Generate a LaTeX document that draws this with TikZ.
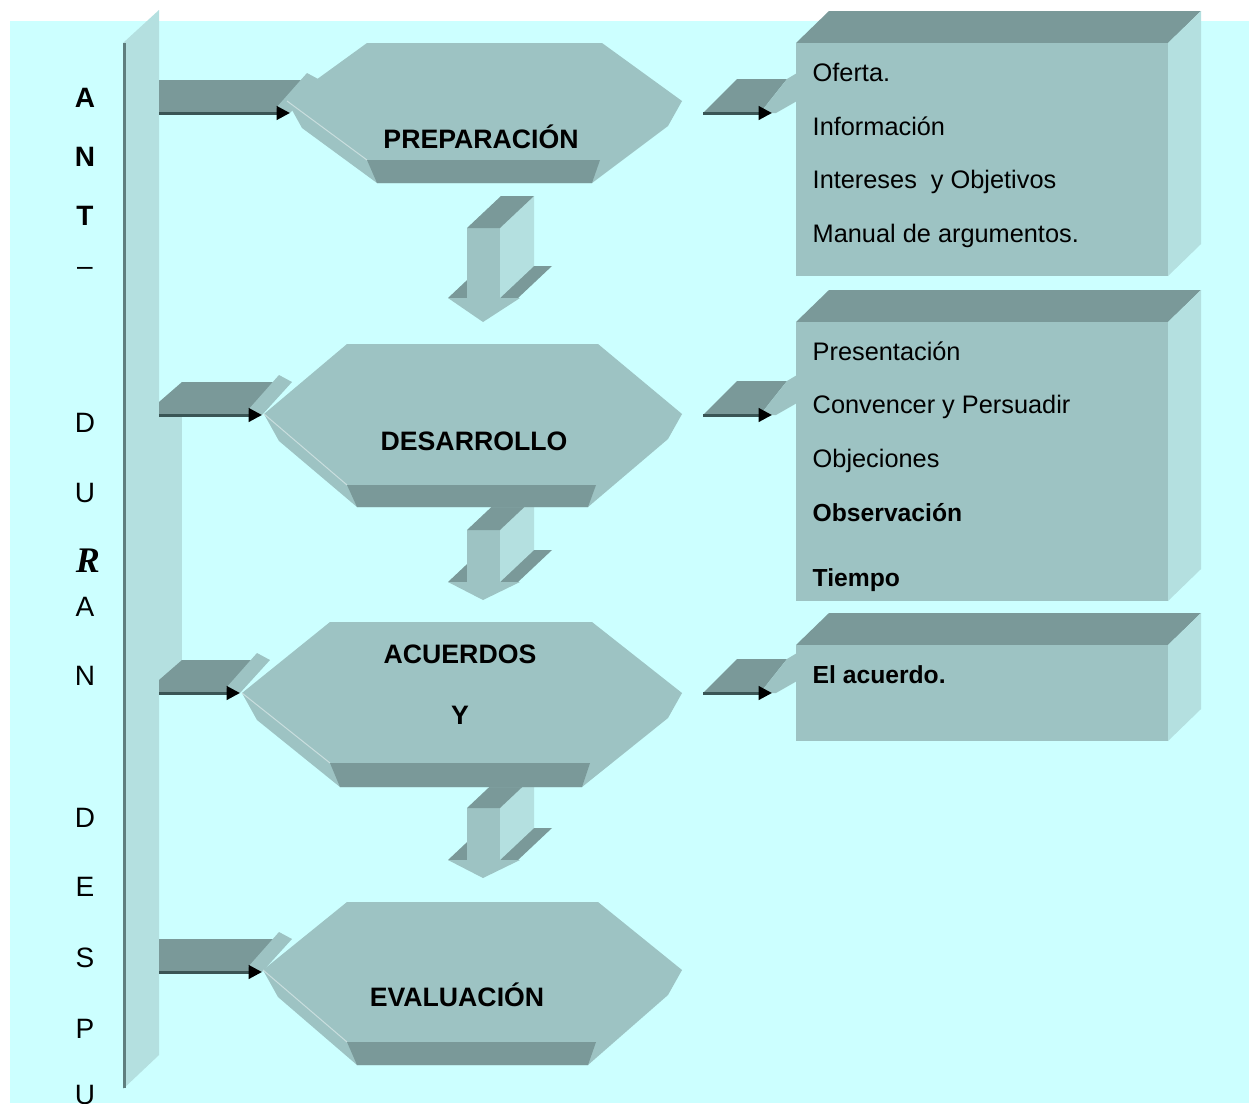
\documentclass[tikz,border=0pt]{standalone}
\usepackage{fontspec}
\setmainfont{Liberation Sans}
\newfontfamily\rserif{Liberation Serif}
\usetikzlibrary{arrows.meta}
\definecolor{bgcyan}{HTML}{CCFFFF}
\definecolor{faceteal}{HTML}{9DC3C3}
\definecolor{darkteal}{HTML}{7A9999}
\definecolor{sideteal}{HTML}{B4E0E0}
\definecolor{edgeteal}{HTML}{5E7E7E}
\definecolor{lineteal}{HTML}{3A5555}

\begin{document}
\begin{tikzpicture}[
  x=0.75pt,y=-0.75pt,
  face/.style={fill=faceteal},
  shade/.style={fill=darkteal},
  side/.style={fill=sideteal},
  link/.style={draw=lineteal,line width=2.25pt,-{Triangle[length=10pt,width=10pt,color=black]}},
  phase/.style={font=\fontsize{20}{24}\selectfont\bfseries,text height=0.72em,text depth=0pt,yshift=-3.75pt},
  item/.style={anchor=west,font=\fontsize{19}{22}\selectfont,text height=0.72em,text depth=0pt,yshift=-3.75pt},
  bolditem/.style={item,font=\fontsize{18.5}{22}\selectfont\bfseries},
  letter/.style={font=\fontsize{21}{24}\selectfont,text height=0.72em,text depth=0pt,yshift=-4.5pt}
]
  \useasboundingbox (0,0) rectangle (1249,1103);
  \fill[white] (0,0) rectangle (1249,1103);
  \fill[bgcyan] (10,21) rectangle (1249,1103);

  % time bar on the left
  \fill[side] (123,43) -- (159,10) -- (159,1055) -- (123,1089) -- cycle;
  \draw[edgeteal,line width=2.25pt] (124.5,43) -- (124.5,1088);
  \fill[side] (159,410) rectangle (182,682);

  % arrows down between the phases
  \foreach \yt/\yb/\tp in {228/298/322, 530/582/600, 808/860/878}{
    \fill[shade] (448,\yb) -- (482,\yb-32) -- (552,\yb-32) -- (518,\yb) -- cycle;
    \fill[face] (448,\yb) -- (483,\tp) -- (520,\yb) -- cycle;
    \fill[side] (500,\yt) -- (534,\yt-32) -- (534,\yb-32) -- (500,\yb) -- cycle;
    \fill[face] (467,\yt) rectangle (500,\yb);
    \fill[shade] (467,\yt) -- (501,\yt-32) -- (534,\yt-32) -- (500,\yt) -- cycle;
  }

  % arrows from the bar
  \foreach \yb/\tx/\sl in {113/290/0, 415/262/1, 693/240/1, 972/262/0}{
    \fill[shade] (159,\yb) -- (159,\yb-33+20*\sl) -- (159+23*\sl,\yb-33)
      -- (\tx+11,\yb-33) -- (\tx-10,\yb) -- cycle;
    \fill[face] (\tx-14,\yb-5) -- (\tx+17,\yb-40) -- (\tx+30,\yb-33) -- (\tx,\yb) -- cycle;
    \draw[link] (159,\yb) -- (\tx,\yb);
  }

  % phases
  \foreach \xl/\xr/\yt/\lx/\rx/\my/\bt/\bb in {367/602/43/287/682/101/160/183,
      347/598/344/264/682/414/485/507, 330/592/622/242/682/693/763/787,
      347/598/902/263/682/970/1042/1065}{
    \fill[face] (\lx,\my) -- (\lx+15,\my+27) -- (\xl+10,\bb) -- (\xr-10,\bb)
      -- (\rx-14,\my+25) -- (\rx,\my) -- cycle;
    \fill[face] (\lx,\my) -- (\xl,\yt) -- (\xr,\yt) -- (\rx,\my) -- (\xr-2,\bt)
      -- (\xl,\bt) -- cycle;
    \draw[white!45!faceteal,line width=0.75pt] (\lx,\my) -- (\xl,\bt);
    \fill[shade] (\xl,\bt) -- (\xr-2,\bt) -- (\xr-10,\bb) -- (\xl+10,\bb) -- cycle;
  }

  % arrows to the boxes
  \foreach \y in {113,415,693}{
    \fill[shade] (703,\y) -- (737,\y-34) -- (787,\y-34) -- (760,\y) -- cycle;
    \fill[face] (760,\y) -- (787,\y-34) -- (797,\y-40) -- (797,\y-12) -- (776,\y) -- cycle;
    \draw[link] (703,\y) -- (772,\y);
  }

  % boxes
  \foreach \t/\b in {43/276, 322/601, 645/741}{
    \fill[shade] (796,\t) -- (829,\t-32) -- (1201,\t-32) -- (1168,\t) -- cycle;
    \fill[side] (1168,\t) -- (1201,\t-32) -- (1201,\b-32) -- (1168,\b) -- cycle;
    \fill[face] (796,\t) rectangle (1168,\b);
  }

  % labels
  \node[phase] (prep) at (481,139) {PREPARACIÓN};
  \node[phase] (desa) at (474,441) {DESARROLLO};
  \node[phase] (acue) at (460,654) {ACUERDOS};
  \node[phase] (acuy) at (460,715) {Y};
  \node[phase] (eval) at (457,997) {EVALUACIÓN};

  \node[item] (ofer) at (808,72) {Oferta.};
  \node[item] (info) at (808,126) {Información};
  \node[item] (inte) at (808,179) {Intereses \ y Objetivos};
  \node[item] (manu) at (808,233) {Manual de argumentos.};
  \node[item] (pres) at (808,351) {Presentación};
  \node[item] (conv) at (808,404) {Convencer y Persuadir};
  \node[item] (obje) at (808,458) {Objeciones};
  \node[bolditem] (obse) at (808,512) {Observación};
  \node[bolditem] (tiem) at (808,577) {Tiempo};
  \node[bolditem] (elac) at (808,674) {El acuerdo.};

  \foreach \ch/\yy in {A/97, N/156, T/215}
    \node[letter,font=\fontsize{21}{24}\selectfont\bfseries] (ltr\yy) at (85,\yy) {\ch};
  \foreach \ch/\yy in {–/265, D/422, U/492, A/606, N/675, D/817, E/886, S/957, P/1028}
    \node[letter] (ltr\yy) at (85,\yy) {\ch};
  \node[letter] (ltrU) at (85,1094) {U};
  \node[letter,font=\fontsize{27}{30}\rserif\bfseries\itshape] (ltrR) at (88,562) {R};
\end{tikzpicture}
\end{document}
